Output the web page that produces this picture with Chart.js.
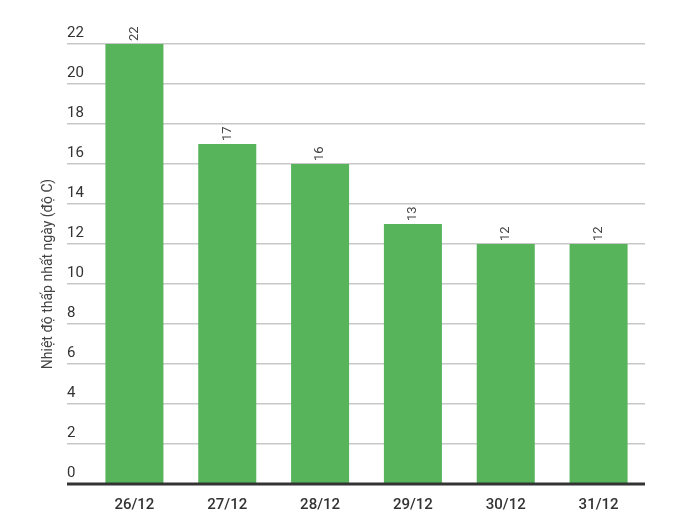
<!DOCTYPE html>
<html>
<head>
<meta charset="utf-8">
<script src="https://cdn.jsdelivr.net/npm/chart.js@4"></script>
<style>
  body { margin: 0; background: #fff; }
  #wrap { width: 679px; height: 529px; }
</style>
</head>
<body>
<div id="wrap"><canvas id="myChart"></canvas></div>
<script>
const days = ['26/12', '27/12', '28/12', '29/12', '30/12', '31/12'];
const minTemps = [22, 17, 16, 13, 12, 12];
const yTicks = [0, 2, 4, 6, 8, 10, 12, 14, 16, 18, 20, 22];
const yTitle = 'Nhiệt độ thấp nhất ngày (độ C)';

const ctx = document.getElementById('myChart').getContext('2d');

// draws y labels above gridlines, the axis line, the y title and the value labels
const extras = {
    id: 'extras',
    afterDraw(chart) {
        const c = chart.ctx;
        const y = chart.scales.y;
        const area = chart.chartArea;
        c.save();
        c.font = '15px Roboto';
        c.fillStyle = '#333';
        c.textAlign = 'left';
        c.textBaseline = 'bottom';
        yTicks.forEach(v => c.fillText(String(v), 67, y.getPixelForValue(v) - 3));

        c.strokeStyle = '#333';
        c.lineWidth = 3;
        c.beginPath();
        c.moveTo(67, area.bottom);
        c.lineTo(area.right, area.bottom);
        c.stroke();

        c.translate(48, (area.top + area.bottom) / 2 + 10);
        c.rotate(-Math.PI / 2);
        c.textAlign = 'center';
        c.textBaseline = 'middle';
        c.font = '14px Roboto';
        c.fillStyle = '#444';
        c.fillText(yTitle, 0, 0);
        c.restore();

        const meta = chart.getDatasetMeta(0);
        c.save();
        c.font = '13px Roboto';
        c.fillStyle = '#444';
        meta.data.forEach((bar, i) => {
            c.save();
            c.translate(bar.x, bar.y - 3);
            c.rotate(-Math.PI / 2);
            c.textAlign = 'left';
            c.textBaseline = 'middle';
            c.fillText(String(minTemps[i]), 0, 0);
            c.restore();
        });
        c.restore();
    }
};

new Chart(ctx, {
    type: 'bar',
    data: {
        labels: days,
        datasets: [{
            data: minTemps,
            backgroundColor: '#57b45a',
            barPercentage: 0.625,
            categoryPercentage: 1
        }]
    },
    options: {
        responsive: true,
        maintainAspectRatio: false,
        animation: false,
        layout: { padding: { left: 30, right: 34, top: 44, bottom: 0 } },
        plugins: { legend: { display: false }, tooltip: { enabled: false } },
        scales: {
            x: {
                grid: { display: false },
                border: { display: false },
                ticks: { color: '#333', font: { family: 'Roboto', size: 15, weight: '500' }, padding: 4 },
                afterFit: s => { s.height = 45; }
            },
            y: {
                min: 0,
                max: 22,
                afterBuildTicks: s => { s.ticks = yTicks.map(v => ({ value: v })); },
                grid: { color: '#c8c8c8', lineWidth: 1.5, tickLength: 21 },
                border: { display: false },
                ticks: { display: false },
                afterFit: s => { s.width = 58; }
            }
        }
    },
    plugins: [extras]
});
</script>
</body>
</html>
